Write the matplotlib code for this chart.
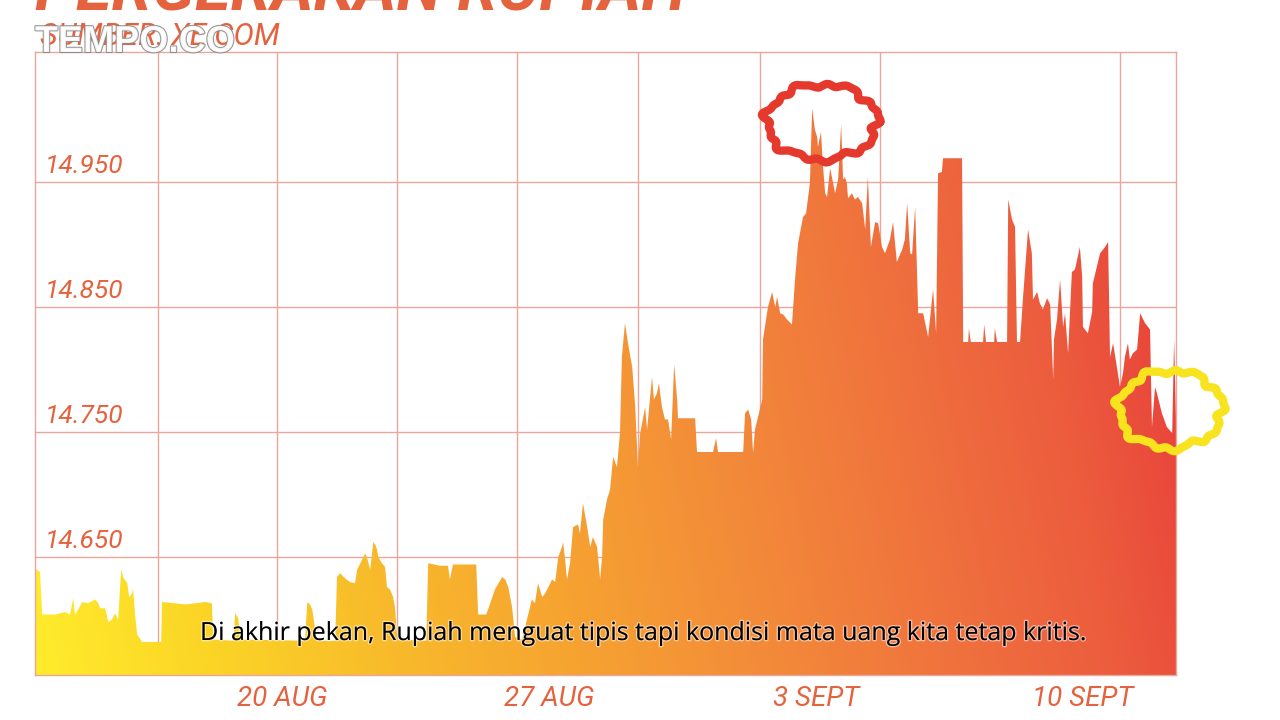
import numpy as np
import matplotlib
matplotlib.use('Agg')
import matplotlib.pyplot as plt
from matplotlib.colors import LinearSegmentedColormap
import matplotlib.patheffects as pe
from matplotlib.transforms import blended_transform_factory

# hari sejak 20 Agustus, kurs rupiah per dolar AS (sumber: xe.com)
hari = [-6.48, -6.35, -6.29, -5.95, -5.69, -5.56, -5.48, -5.43, -5.35, -5.24,
        -5.09, -4.90, -4.82, -4.77, -4.64, -4.56, -4.46, -4.38, -4.30, -4.22,
        -4.17, -4.06, -4.01, -3.93, -3.91, -3.85, -3.80, -3.67, -3.25, -3.17,
        -3.15, -2.81, -2.54, -2.28, -2.02, -1.84, -1.81, -1.28, -1.23, -1.15,
        -1.10, 0.60, 0.66, 0.73, 0.79, 0.87, 0.92, 1.39, 1.44, 1.52,
        1.65, 1.78, 1.91, 1.97, 2.10, 2.18, 2.23, 2.31, 2.39, 2.44,
        2.49, 2.52, 2.62, 2.70, 2.75, 2.83, 2.91, 2.96, 3.02, 3.78,
        3.83, 4.14, 4.35, 4.40, 4.48, 4.75, 5.09, 5.14, 5.35, 5.40,
        5.58, 5.77, 5.85, 5.93, 6.03, 6.11, 6.29, 6.42, 6.55, 6.63,
        6.71, 6.82, 6.90, 7.08, 7.16, 7.24, 7.34, 7.37, 7.42, 7.47,
        7.55, 7.63, 7.76, 7.81, 7.89, 8.00, 8.08, 8.15, 8.26, 8.34,
        8.39, 8.42, 8.52, 8.60, 8.68, 8.78, 8.86, 8.91, 8.99, 9.07,
        9.18, 9.26, 9.33, 9.39, 9.47, 9.52, 9.57, 9.62, 9.70, 9.75,
        9.83, 9.88, 9.96, 10.04, 10.12, 10.20, 10.28, 10.36, 10.38, 10.83,
        10.88, 11.30, 11.38, 11.43, 12.09, 12.14, 12.22, 12.30, 12.35, 12.40,
        12.48, 12.59, 12.61, 12.69, 12.74, 12.85, 12.93, 12.98, 13.06, 13.14,
        13.24, 13.37, 13.45, 13.53, 13.66, 13.74, 13.84, 13.90, 13.97, 14.03,
        14.05, 14.13, 14.18, 14.24, 14.29, 14.37, 14.45, 14.50, 14.58, 14.66,
        14.71, 14.76, 14.81, 14.84, 14.94, 15.02, 15.10, 15.21, 15.29, 15.36,
        15.44, 15.55, 15.63, 15.73, 15.81, 15.94, 16.02, 16.12, 16.26, 16.33,
        16.39, 16.47, 16.52, 16.60, 16.68, 16.81, 16.94, 17.07, 17.15, 17.20,
        17.30, 17.33, 17.83, 17.86, 17.99, 18.01, 18.06, 18.38, 18.41, 18.46,
        18.67, 18.69, 18.75, 19.01, 19.04, 19.14, 19.22, 19.27, 19.35, 19.43,
        19.56, 19.66, 19.69, 19.80, 19.87, 19.95, 20.06, 20.14, 20.22, 20.24,
        20.32, 20.40, 20.48, 20.53, 20.61, 20.71, 20.79, 20.92, 20.98, 21.00,
        21.13, 21.24, 21.26, 21.45, 21.58, 21.66, 21.71, 21.79, 21.89, 21.97,
        22.05, 22.10, 22.18, 22.23, 22.31, 22.42, 22.50, 22.63, 22.76, 22.81,
        22.89, 22.94, 23.07, 23.20, 23.34, 23.39, 23.44]
kurs = [14641, 14638, 14604, 14604, 14606, 14604, 14617, 14604, 14608, 14614,
        14613, 14616, 14613, 14609, 14609, 14598, 14600, 14605, 14600, 14640,
        14634, 14629, 14618, 14621, 14625, 14602, 14588, 14582, 14582, 14582,
        14614, 14613, 14612, 14613, 14614, 14613, 14584, 14583, 14605, 14601,
        14584, 14583, 14614, 14612, 14608, 14592, 14583, 14583, 14634, 14637,
        14633, 14630, 14629, 14640, 14648, 14653, 14649, 14640, 14662, 14660,
        14656, 14650, 14645, 14642, 14626, 14624, 14618, 14610, 14584, 14583,
        14645, 14643, 14643, 14632, 14644, 14644, 14644, 14604, 14604, 14608,
        14624, 14634, 14632, 14626, 14610, 14586, 14584, 14600, 14616, 14613,
        14629, 14618, 14621, 14632, 14630, 14650, 14658, 14662, 14648, 14632,
        14645, 14674, 14676, 14669, 14693, 14674, 14658, 14666, 14658, 14632,
        14650, 14680, 14696, 14704, 14730, 14722, 14749, 14810, 14837, 14821,
        14802, 14770, 14722, 14749, 14762, 14770, 14752, 14768, 14794, 14776,
        14781, 14789, 14770, 14760, 14760, 14744, 14804, 14776, 14761, 14761,
        14734, 14734, 14745, 14734, 14734, 14765, 14768, 14760, 14733, 14752,
        14762, 14776, 14824, 14840, 14850, 14862, 14850, 14858, 14845, 14844,
        14840, 14836, 14872, 14901, 14922, 14925, 14949, 15009, 14992, 14986,
        14978, 14990, 14964, 14941, 14938, 14961, 14949, 14941, 14952, 14996,
        14952, 14954, 14949, 14937, 14941, 14936, 14938, 14933, 14912, 14954,
        14898, 14918, 14917, 14898, 14893, 14904, 14918, 14886, 14896, 14904,
        14933, 14893, 14892, 14930, 14845, 14845, 14826, 14864, 14829, 14957,
        14958, 14969, 14969, 14822, 14822, 14833, 14822, 14822, 14836, 14822,
        14822, 14833, 14822, 14822, 14936, 14920, 14914, 14822, 14822, 14858,
        14912, 14893, 14856, 14862, 14853, 14848, 14857, 14852, 14792, 14824,
        14840, 14872, 14834, 14845, 14813, 14878, 14880, 14898, 14874, 14834,
        14829, 14846, 14869, 14893, 14898, 14902, 14810, 14821, 14802, 14786,
        14797, 14810, 14821, 14808, 14813, 14816, 14845, 14837, 14832, 14754,
        14786, 14781, 14765, 14754, 14749, 14824, 14760]

tanggal_pos = [0, 7, 14, 21]
tanggal_label = ['20 AUG', '27 AUG', '3 SEPT', '10 SEPT']
level_kurs = [14650, 14750, 14850, 14950]
level_label = ['14.650', '14.750', '14.850', '14.950']

oranye = '#E5623E'
garis = '#E9A79C'
huruf = 'Roboto'

fig = plt.figure(figsize=(12.8, 7.2), dpi=100)
ax = fig.add_axes([35 / 1280, 45 / 720, 1141 / 1280, 623 / 720])
x0, x1 = hari[0], hari[-1]
y0, y1 = 14555.6, 15054

# isi area dengan gradasi kuning -> merah
poly = ax.fill_between(hari, y0, kurs, facecolor='none', edgecolor='none')
cmap = LinearSegmentedColormap.from_list('rupiah', ['#FFEC2C', '#FBD426', '#F8BA2B', '#F6A331',
                                                     '#F38C39', '#F0743D', '#EC5C3D', '#E8383A'])
gx, gy = np.meshgrid(np.linspace(0, 1, 600), np.linspace(0, 1, 300))
im = ax.imshow(0.9 * gx + 0.1 * gy, extent=[x0, x1, y0, y1], origin='lower',
               aspect='auto', cmap=cmap, zorder=2)
im.set_clip_path(poly.get_paths()[0], ax.transData)

ax.set_xlim(x0, x1)
ax.set_ylim(y0, y1)

# grid
ax.set_axisbelow(True)
ax.set_yticks(level_kurs)
ax.set_yticklabels([])
ax.set_xticks([-3.25, -0.13, 3.02, 6.16, 9.33, 12.53, 15.68, 21.97], minor=True)
ax.grid(which='minor', axis='x', color=garis, lw=1)
ax.grid(which='major', axis='y', color=garis, lw=1)
ax.set_xticks(tanggal_pos)
ax.set_xticklabels(tanggal_label, fontsize=20, color=oranye, style='italic', family=huruf)
ax.tick_params(axis='both', which='both', length=0)
ax.tick_params(axis='x', pad=8)
for s in ax.spines.values():
    s.set_color(garis)
    s.set_linewidth(1)

tr = blended_transform_factory(ax.transAxes, ax.transData)
for v, lab in zip(level_kurs, level_label):
    ax.annotate(lab, (0.009, v), xycoords=tr, xytext=(0, 3), textcoords='offset points',
                fontsize=19, color=oranye, style='italic', family=huruf, va='bottom', ha='left')


# coretan lingkaran
def coretan(cx, cy, rx, ry, warna, lw):
    th = np.linspace(0, 2 * np.pi, 240)
    r = 1 + 0.05 * np.sin(7 * th) + 0.035 * np.sin(13 * th + 1) + 0.025 * np.sin(21 * th + 2)
    ax.plot(cx + rx * r * np.cos(th), cy + ry * r * np.sin(th), color=warna, lw=lw,
            clip_on=False, zorder=5, solid_joinstyle='round', solid_capstyle='round')


coretan(14.16, 14998, 1.45, 30, '#E6392E', 6.0)
coretan(23.3, 14768, 1.36, 31, '#F7E31E', 6.0)

# judul & sumber
fig.text(35 / 1280, 1 - 10 / 720, 'PERGERAKAN RUPIAH', fontsize=47, color=oranye,
         weight='bold', style='italic', family=huruf, va='baseline')
fig.text(40 / 1280, 1 - 45 / 720, 'SUMBER: XE.COM', fontsize=22, color=oranye,
         style='italic', family=huruf, va='baseline')
fig.text(35 / 1280, 1 - 52 / 720, 'TEMPO.CO', fontsize=27, color='white', weight='bold',
         family='Liberation Sans', va='baseline', alpha=0.9,
         path_effects=[pe.withStroke(linewidth=1.5, foreground='#8a8a8a')])

fig.text(643 / 1280, 1 - 640 / 720,
         'Di akhir pekan, Rupiah menguat tipis tapi kondisi mata uang kita tetap kritis.',
         fontsize=18, color='black', family='Open Sans', ha='center', va='baseline', zorder=10,
         path_effects=[pe.withStroke(linewidth=2, foreground=(1, 1, 1, 0.5))])

fig.savefig('out.png', dpi=100)
